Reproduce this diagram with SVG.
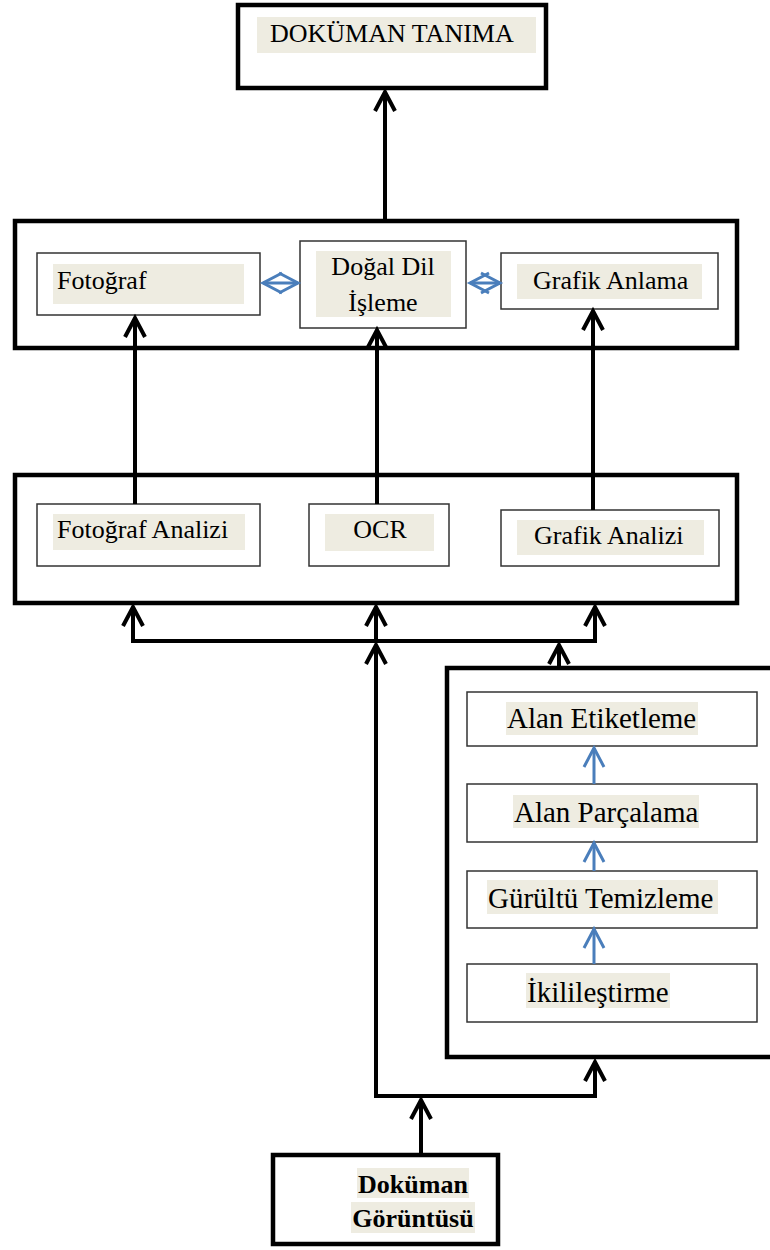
<svg xmlns="http://www.w3.org/2000/svg" width="770" height="1250" viewBox="0 0 770 1250">
<style>
.outer{fill:#fff;stroke:#000;stroke-width:4.5}
.inner{fill:#fff;stroke:#333;stroke-width:1.5}
.hl{fill:#eeece1}
.t{font-family:"Liberation Serif","Times New Roman",serif;font-size:26px;fill:#000}
.t29{font-family:"Liberation Serif","Times New Roman",serif;font-size:29px;fill:#000}
.tb{font-family:"Liberation Serif","Times New Roman",serif;font-size:26px;font-weight:bold;fill:#000}
.k{fill:none;stroke:#000;stroke-width:4}
.b{fill:none;stroke:#4a7ebb;stroke-width:3}
</style>
<defs>
<marker id="ah" viewBox="-24 -14 28 28" markerWidth="28" markerHeight="28" markerUnits="userSpaceOnUse" refX="0" refY="0" orient="auto" overflow="visible">
<path d="M-19,-10 L0,0 L-19,10" fill="none" stroke="#000" stroke-width="4"/>
</marker>
<marker id="bh" viewBox="-24 -14 28 28" markerWidth="28" markerHeight="28" markerUnits="userSpaceOnUse" refX="0" refY="0" orient="auto-start-reverse" overflow="visible">
<path d="M-19,-10 L0,0 L-19,10" fill="none" stroke="#4a7ebb" stroke-width="3"/>
</marker>
</defs>

<g id="dokuman-tanima">
<rect class="outer" x="238" y="5" width="308" height="83"/>
<rect class="hl" x="257" y="17" width="279" height="36"/>
<text class="t" x="270" y="42">DOKÜMAN TANIMA</text>
</g>

<g id="katman2">
<rect class="outer" x="15" y="221" width="722" height="127"/>
</g>
<g id="fotograf">
<rect class="inner" x="37" y="253" width="223" height="62"/>
<rect class="hl" x="53" y="264" width="191" height="40"/>
<text class="t" x="57" y="289">Fotoğraf</text>
</g>
<g id="dogal-dil">
<rect class="inner" x="300" y="241" width="166" height="87"/>
<rect class="hl" x="316" y="251" width="135" height="66"/>
<text class="t" x="383" y="275" text-anchor="middle">Doğal Dil</text>
<text class="t" x="383" y="311" text-anchor="middle">İşleme</text>
</g>
<g id="grafik-anlama">
<rect class="inner" x="501" y="253" width="217" height="56"/>
<rect class="hl" x="517" y="264" width="185" height="35"/>
<text class="t" x="533" y="289">Grafik Anlama</text>
</g>

<g id="katman3">
<rect class="outer" x="15" y="475" width="722" height="128"/>
</g>
<g id="fotograf-analizi">
<rect class="inner" x="37" y="504" width="223" height="62"/>
<rect class="hl" x="53" y="514" width="192" height="36"/>
<text class="t" x="57" y="538">Fotoğraf Analizi</text>
</g>
<g id="ocr">
<rect class="inner" x="309" y="504" width="140" height="62"/>
<rect class="hl" x="325" y="514" width="109" height="37"/>
<text class="t" x="380" y="538" text-anchor="middle">OCR</text>
</g>
<g id="grafik-analizi">
<rect class="inner" x="501" y="510" width="218" height="56"/>
<rect class="hl" x="517" y="520" width="187" height="35"/>
<text class="t" x="534" y="544">Grafik Analizi</text>
</g>

<g id="onisleme">
<rect class="outer" x="447" y="668" width="340" height="389"/>
</g>
<g id="alan-etiketleme">
<rect class="inner" x="467" y="692" width="290" height="54"/>
<rect class="hl" x="506" y="702" width="192" height="33"/>
<text class="t29" x="507" y="728">Alan Etiketleme</text>
</g>
<g id="alan-parcalama">
<rect class="inner" x="467" y="784" width="290" height="58"/>
<rect class="hl" x="513" y="795" width="186" height="33"/>
<text class="t29" x="514" y="822">Alan Parçalama</text>
</g>
<g id="gurultu-temizleme">
<rect class="inner" x="467" y="871" width="290" height="57"/>
<rect class="hl" x="487" y="880" width="231" height="34"/>
<text class="t29" x="488" y="908">Gürültü Temizleme</text>
</g>
<g id="ikilestirme">
<rect class="inner" x="467" y="964" width="290" height="58"/>
<rect class="hl" x="526" y="973" width="144" height="35"/>
<text class="t29" x="527" y="1002">İkilileştirme</text>
</g>

<g id="dokuman-goruntusu">
<rect class="outer" x="273" y="1155" width="225" height="89"/>
<rect class="hl" x="357" y="1168" width="112" height="30"/>
<rect class="hl" x="351" y="1202" width="124" height="31"/>
<text class="tb" x="413" y="1193" text-anchor="middle">Doküman</text>
<text class="tb" x="413" y="1227" text-anchor="middle">Görüntüsü</text>
</g>

<g id="connectors">
<line class="k" x1="385" y1="221" x2="385" y2="92" marker-end="url(#ah)"/>
<line class="k" x1="135" y1="504" x2="135" y2="318" marker-end="url(#ah)"/>
<line class="k" x1="377" y1="504" x2="377" y2="330" marker-end="url(#ah)"/>
<line class="k" x1="593" y1="510" x2="593" y2="311" marker-end="url(#ah)"/>
<line class="b" x1="263" y1="283" x2="298" y2="283" marker-start="url(#bh)" marker-end="url(#bh)"/>
<line class="b" x1="470" y1="283" x2="500" y2="283" marker-start="url(#bh)" marker-end="url(#bh)"/>
<polyline class="k" points="133,607 133,641 595,641 595,607"/>
<line class="k" x1="133" y1="620" x2="133" y2="607" marker-end="url(#ah)"/>
<line class="k" x1="595" y1="620" x2="595" y2="607" marker-end="url(#ah)"/>
<line class="k" x1="376" y1="641" x2="376" y2="607" marker-end="url(#ah)"/>
<line class="k" x1="559" y1="668" x2="559" y2="645" marker-end="url(#ah)"/>
<polyline class="k" points="376,645 376,1096 595,1096 595,1062"/>
<line class="k" x1="376" y1="700" x2="376" y2="645" marker-end="url(#ah)"/>
<line class="k" x1="595" y1="1080" x2="595" y2="1062" marker-end="url(#ah)"/>
<line class="k" x1="421" y1="1155" x2="421" y2="1100" marker-end="url(#ah)"/>
<line class="b" x1="594" y1="784" x2="594" y2="748" marker-end="url(#bh)"/>
<line class="b" x1="594" y1="871" x2="594" y2="843" marker-end="url(#bh)"/>
<line class="b" x1="594" y1="964" x2="594" y2="929" marker-end="url(#bh)"/>
</g>
</svg>
